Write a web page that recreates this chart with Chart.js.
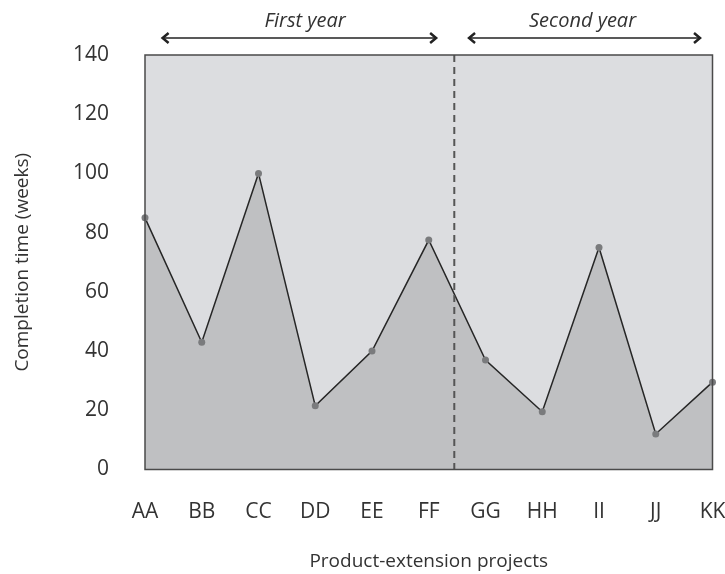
<!DOCTYPE html>
<html>
<head>
<meta charset="utf-8">
<script src="https://cdn.jsdelivr.net/npm/chart.js@4.4.1/dist/chart.umd.min.js"></script>
<style>
  html, body { margin: 0; padding: 0; background: #fff; }
  #wrap { width: 725px; height: 574px; }
</style>
</head>
<body>
<div id="wrap"><canvas id="chart" width="725" height="574"></canvas></div>
<script>
// project codes on the x axis
const projects = ['AA', 'BB', 'CC', 'DD', 'EE', 'FF', 'GG', 'HH', 'II', 'JJ', 'KK'];
// completion time in weeks
const weeks = [85, 43, 100, 21.5, 40, 77.5, 37, 19.5, 75, 12, 29.5];
// y axis ticks
const yMin = 0;
const yMax = 140;
const yStep = 20;
// the two periods above the plot
const periods = ['First year', 'Second year'];

const FONT = "'Open Sans', sans-serif";

// grey plot box, dashed split line, border and the period arrows
const boxPlugin = {
    id: 'box',
    beforeDraw(chart) {
        const { ctx, chartArea: a } = chart;
        ctx.save();
        ctx.fillStyle = '#dcdde0';
        ctx.fillRect(a.left, a.top, a.right - a.left, a.bottom - a.top);
        ctx.restore();
    },
    afterDatasetsDraw(chart) {
        const { ctx, chartArea: a } = chart;
        const x = chart.scales.x;

        // dashed line between the two years
        const xs = x.getPixelForValue(5.45);
        ctx.save();
        ctx.strokeStyle = '#555';
        ctx.lineWidth = 2;
        ctx.setLineDash([7, 5]);
        ctx.beginPath();
        ctx.moveTo(xs, a.top);
        ctx.lineTo(xs, a.bottom);
        ctx.stroke();
        ctx.restore();

        // border
        ctx.save();
        ctx.strokeStyle = '#4a4a4a';
        ctx.lineWidth = 1.5;
        ctx.strokeRect(a.left, a.top, a.right - a.left, a.bottom - a.top);
        ctx.restore();

        // arrows + labels
        const spans = [[0.31, 5.13, 2.82], [5.71, 9.78, 7.71]];
        const ay = a.top - 17;
        ctx.save();
        ctx.strokeStyle = '#222';
        ctx.fillStyle = '#333';
        ctx.font = 'italic 20px ' + FONT;
        ctx.textAlign = 'center';
        ctx.textBaseline = 'middle';
        spans.forEach((s, i) => {
            const x1 = x.getPixelForValue(s[0]);
            const x2 = x.getPixelForValue(s[1]);
            ctx.lineWidth = 1.5;
            ctx.beginPath();
            ctx.moveTo(x1, ay);
            ctx.lineTo(x2, ay);
            ctx.stroke();
            ctx.lineWidth = 2.5;
            ctx.beginPath();
            ctx.moveTo(x1 + 6, ay - 5);
            ctx.lineTo(x1, ay);
            ctx.lineTo(x1 + 6, ay + 5);
            ctx.moveTo(x2 - 6, ay - 5);
            ctx.lineTo(x2, ay);
            ctx.lineTo(x2 - 6, ay + 5);
            ctx.stroke();
            ctx.fillText(periods[i], x.getPixelForValue(s[2]), 21);
        });
        ctx.restore();
    }
};

const ctx = document.getElementById('chart').getContext('2d');
new Chart(ctx, {
    type: 'line',
    data: {
        labels: projects,
        datasets: [{
            data: weeks,
            borderColor: '#262626',
            borderWidth: 1.5,
            backgroundColor: '#bfc0c2',
            fill: 'origin',
            tension: 0,
            pointRadius: 3.5,
            pointHoverRadius: 3.5,
            pointBackgroundColor: '#7a7b7d',
            pointBorderWidth: 0,
            clip: false
        }]
    },
    options: {
        responsive: false,
        animation: false,
        events: [],
        layout: { padding: { left: 0, right: 12.5, top: 55, bottom: 0 } },
        plugins: {
            legend: { display: false },
            tooltip: { enabled: false }
        },
        scales: {
            x: {
                offset: false,
                grid: { display: false, drawTicks: false },
                border: { display: false },
                ticks: { color: '#333', font: { family: FONT, size: 21 }, padding: 30, maxRotation: 0, autoSkip: false },
                title: {
                    display: true,
                    text: 'Product-extension projects',
                    color: '#333',
                    font: { family: FONT, size: 19 },
                    padding: { top: 0, bottom: 1 }
                },
                afterFit(scale) {
                    scale.height = 104.5;
                    scale.paddingLeft = 0;
                    scale.paddingRight = 0;
                }
            },
            y: {
                min: yMin,
                max: yMax,
                grid: { display: false, drawTicks: false },
                border: { display: false },
                ticks: { stepSize: yStep, color: '#333', font: { family: FONT, size: 21 }, padding: 36 },
                title: {
                    display: true,
                    text: 'Completion time (weeks)',
                    color: '#333',
                    font: { family: FONT, size: 19 },
                    padding: { top: 11, bottom: 0 }
                },
                afterFit(scale) { scale.width = 145; }
            }
        }
    },
    plugins: [boxPlugin]
});
</script>
</body>
</html>
